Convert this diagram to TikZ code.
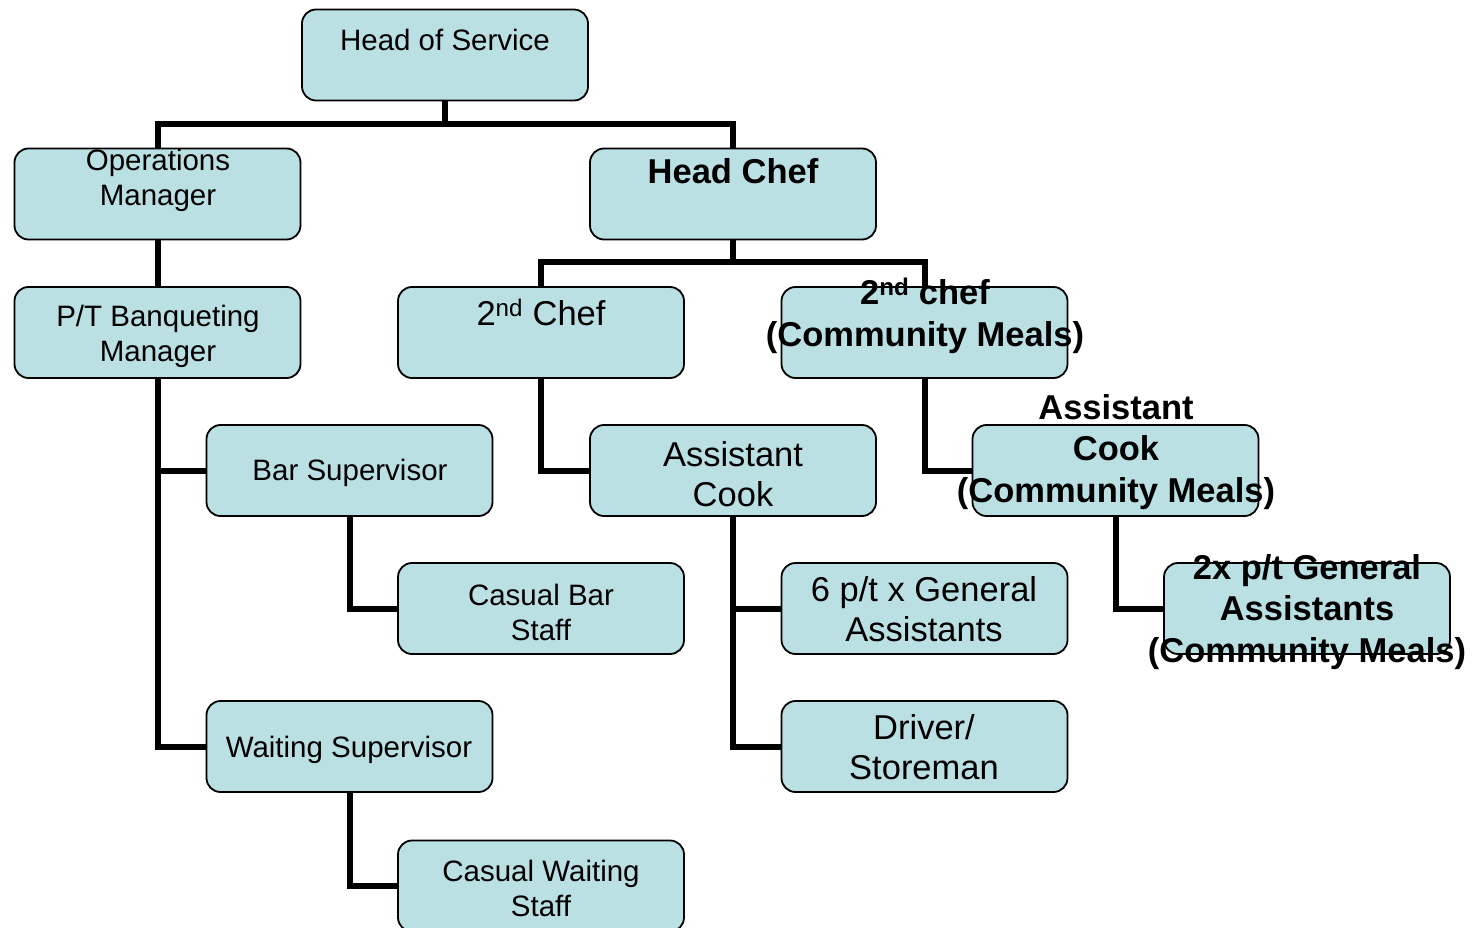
\documentclass[tikz,border=0pt]{standalone}
\usepackage{fontspec}
\setmainfont{Liberation Sans}
\definecolor{boxfill}{HTML}{BBE0E3}
\begin{document}
\begin{tikzpicture}[x=1pt,y=-1pt,
  box/.style={draw=black,line width=1.8pt,fill=boxfill,rounded corners=14pt,
    minimum width=286pt,minimum height=91pt,inner sep=0pt,outer sep=0pt},
  conn/.style={line width=6pt,draw=black},
  reg/.style={inner sep=0pt,align=center,font=\fontsize{29.5}{35}\selectfont},
  big/.style={inner sep=0pt,align=center,font=\fontsize{34.5}{40.5}\selectfont},
  bld/.style={inner sep=0pt,align=center,font=\fontsize{34.5}{41.5}\selectfont\bfseries}]
\fill[white] (0,0) rectangle (1481,928);
\useasboundingbox (0,0) rectangle (1481,928);
% boxes
\node[box] (hos) at (445,55) {};
\node[box] (ops) at (157.5,194) {};
\node[box] (hc) at (733,194) {};
\node[box] (pt) at (157.5,332.5) {};
\node[box] (c2) at (541,332.5) {};
\node[box] (cm2) at (924.5,332.5) {};
\node[box] (bar) at (349.5,470.5) {};
\node[box] (ac) at (733,470.5) {};
\node[box] (accm) at (1115.5,470.5) {};
\node[box] (cbar) at (541,608.5) {};
\node[box] (gen) at (924.5,608.5) {};
\node[box] (gacm) at (1307,608.5) {};
\node[box] (wait) at (349.5,746.5) {};
\node[box] (drv) at (924.5,746.5) {};
\node[box] (cws) at (541,886) {};
% connectors
\draw[conn] (hos.south) -- ++(0,24) -| (ops.north);
\draw[conn] (hos.south) -- ++(0,24) -| (hc.north);
\draw[conn] (ops.south) -- (pt.north);
\draw[conn] (hc.south) -- ++(0,23) -| (c2.north);
\draw[conn] (hc.south) -- ++(0,23) -| (cm2.north);
\draw[conn] (pt.south) |- (bar.west);
\draw[conn] (pt.south) |- (wait.west);
\draw[conn] (bar.south) |- (cbar.west);
\draw[conn] (wait.south) |- (cws.west);
\draw[conn] (c2.south) |- (ac.west);
\draw[conn] (ac.south) |- (gen.west);
\draw[conn] (ac.south) |- (drv.west);
\draw[conn] (cm2.south) |- (accm.west);
\draw[conn] (accm.south) |- (gacm.west);
% texts
\node[reg] (thos) at (445,40) {Head of Service};
\node[reg] (tops) at (158,180) {Operations\\Manager};
\node[bld] (thc) at (733,171) {Head Chef};
\node[reg] (tpt) at (158,336) {P/T Banqueting\\Manager};
\node[big] (tc2) at (541,312) {2\textsuperscript{nd} Chef};
\node[bld] (tcm2) at (925,316) {2\textsuperscript{nd} chef\\(Community Meals)};
\node[reg] (tbar) at (350,473) {Bar Supervisor};
\node[big] (tac) at (733,474) {Assistant\\Cook};
\node[bld] (taccm) at (1116,452) {Assistant\\Cook\\(Community Meals)};
\node[reg] (tcbar) at (541,612) {Casual Bar\\Staff};
\node[big] (tgen) at (924,609) {6 p/t x General\\Assistants};
\node[bld] (tgacm) at (1307,612) {2x p/t General\\Assistants\\(Community Meals)};
\node[reg] (twait) at (349,750) {Waiting Supervisor};
\node[big] (tdrv) at (924,747) {Driver/\\Storeman};
\node[reg] (tcws) at (541,888) {Casual Waiting\\Staff};
\end{tikzpicture}
\end{document}
